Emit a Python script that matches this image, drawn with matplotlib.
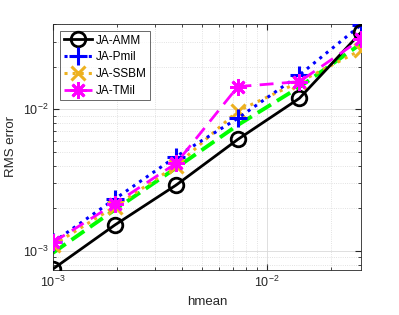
import matplotlib
matplotlib.use("Agg")
import matplotlib.pyplot as plt
import numpy as np
from matplotlib.ticker import LogLocator, NullFormatter

plt.rcParams['font.family'] = ['Liberation Sans', 'DejaVu Sans']

hmean = [1.0e-3, 1.943e-3, 3.776e-3, 7.34e-3, 1.426e-2, 2.77e-2]
ja_amm = [7.46e-4, 1.52e-3, 2.92e-3, 6.13e-3, 1.196e-2, 3.49e-2]
ja_pmil = [1.15e-3, 2.32e-3, 4.64e-3, 8.64e-3, 1.746e-2, 3.94e-2]
ja_ssbm = [1.10e-3, 2.05e-3, 4.0e-3, 9.73e-3, 1.56e-2, 2.62e-2]
ja_tmil = [1.15e-3, 2.15e-3, 4.16e-3, 1.445e-2, 1.567e-2, 3.12e-2]
ref_line = [9.7e-4, 1.95e-3, 3.86e-3, 7.74e-3, 1.436e-2, 2.9e-2]
labels = ['JA-AMM', 'JA-Pmil', 'JA-SSBM', 'JA-TMil']

fig = plt.figure(figsize=(3.99, 3.15), dpi=100)
ax = fig.add_axes([0.1328, 0.1429, 0.772, 0.781])

orange = (0.929, 0.694, 0.125)
ast = (8, 2, 0)
ax.plot(hmean, ja_amm, '-', color='k', lw=2.0, marker='o', ms=10.5, mfc='none', mew=2.0, label=labels[0], zorder=5)
ax.plot(hmean, ja_pmil, ':', color='b', lw=2.2, marker='+', ms=13, mew=2.2, label=labels[1], zorder=4)
ax.plot(hmean, ja_ssbm, ':', color=orange, lw=2.2, marker='x', ms=9.5, mew=2.2, label=labels[2], zorder=3)
ax.plot(hmean, ja_tmil, '--', color=(1, 0, 1), lw=2.0, marker=ast, ms=12, mew=2.0, label=labels[3], dashes=(5, 3), zorder=6)
ax.plot(hmean, ref_line, '--', color=(0, 1, 0), lw=2.8, dashes=(4, 1.8), zorder=2)

ax.set_xscale('log')
ax.set_yscale('log')
ax.set_xlim(hmean[0], hmean[-1])
ax.set_ylim(7.34e-4, 4.0e-2)

ax.xaxis.set_major_locator(LogLocator(base=10))
ax.yaxis.set_major_locator(LogLocator(base=10))
ax.xaxis.set_minor_locator(LogLocator(base=10, subs=np.arange(2, 10)))
ax.yaxis.set_minor_locator(LogLocator(base=10, subs=np.arange(2, 10)))
ax.xaxis.set_minor_formatter(NullFormatter())
ax.yaxis.set_minor_formatter(NullFormatter())

ax.grid(True, which='major', color=(0.85, 0.85, 0.85), lw=0.6, ls='-')
ax.grid(True, which='minor', color=(0.85, 0.85, 0.85), lw=0.6, ls=':')
ax.set_axisbelow(True)

ax.tick_params(which='both', direction='in', top=True, right=True, colors=(0.15, 0.15, 0.15), labelsize=9)
ax.tick_params(which='major', length=4)
ax.tick_params(which='minor', length=2)
for s in ax.spines.values():
    s.set_color((0.15, 0.15, 0.15))
    s.set_linewidth(0.6)

ax.set_xlabel('hmean', fontsize=9.5, color=(0.15, 0.15, 0.15))
ax.set_ylabel('RMS error', fontsize=9.5, color=(0.15, 0.15, 0.15))

leg = ax.legend(loc='upper left', fontsize=8.5, frameon=True, fancybox=False, edgecolor=(0.15, 0.15, 0.15),
                handlelength=2.4, borderpad=0.3, labelspacing=0.4, handletextpad=0.3, borderaxespad=0.6)
leg.get_frame().set_linewidth(0.6)

fig.savefig('out.png', dpi=100)
